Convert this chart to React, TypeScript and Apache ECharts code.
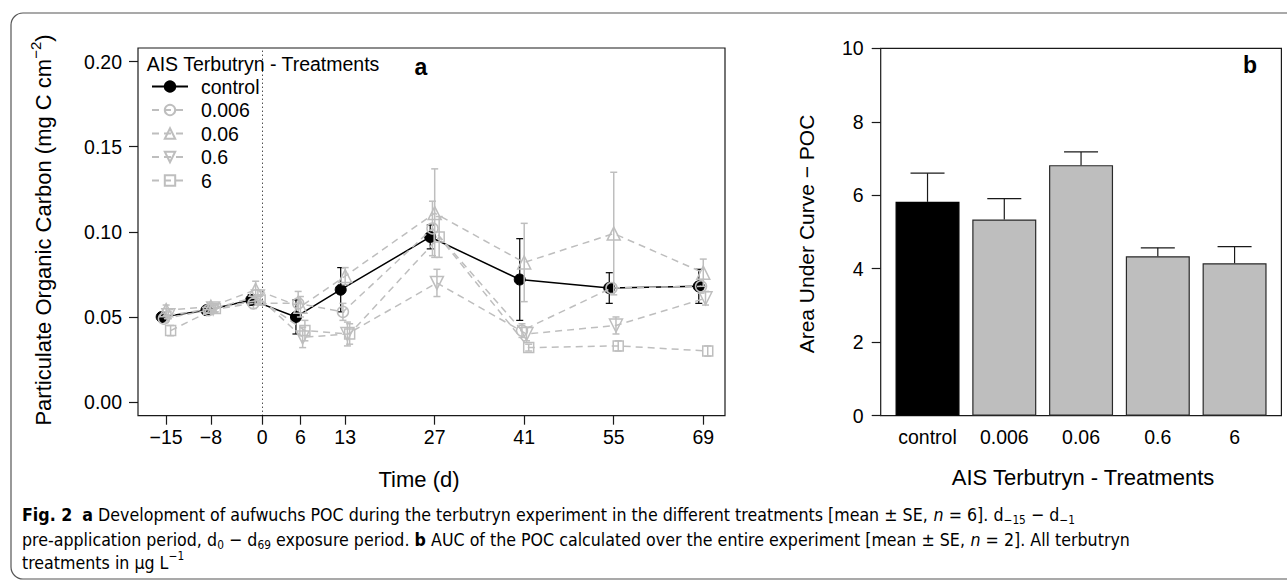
import React, { useEffect, useRef } from 'react';
import * as echarts from 'echarts';

// ---------- data ----------
const days = [-15, -8, -1, 6, 13, 27, 41, 55, 69];
const dayTicks = [-15, -8, 0, 6, 13, 27, 41, 55, 69];
const pocTicks = [0, 0.05, 0.1, 0.15, 0.2];
const treatments = ['control', '0.006', '0.06', '0.6', '6'];

const controlMean = [0.050, 0.054, 0.060, 0.050, 0.066, 0.097, 0.072, 0.067, 0.068];
const controlSE = [0.002, 0.002, 0.003, 0.010, 0.013, 0.007, 0.024, 0.009, 0.010];
const t0006Mean = [0.049, 0.054, 0.058, 0.058, 0.053, 0.102, 0.042, 0.067, 0.068];
const t0006SE = [0.002, 0.002, 0.003, 0.007, 0.005, 0.016, 0.004, 0.003, 0.004];
const t006Mean = [0.054, 0.056, 0.066, 0.056, 0.074, 0.111, 0.082, 0.099, 0.076];
const t006SE = [0.003, 0.002, 0.005, 0.006, 0.005, 0.026, 0.023, 0.036, 0.008];
const t06Mean = [0.051, 0.055, 0.062, 0.038, 0.040, 0.070, 0.040, 0.045, 0.061];
const t06SE = [0.002, 0.002, 0.004, 0.006, 0.007, 0.008, 0.004, 0.005, 0.004];
const t6Mean = [0.042, 0.055, 0.060, 0.042, 0.040, 0.097, 0.032, 0.033, 0.030];
const t6SE = [0.003, 0.002, 0.003, 0.006, 0.006, 0.012, 0.002, 0.003, 0.003];

// horizontal jitter of each treatment (days)
const dayOffsets = [-0.7, -0.35, 0, 0.35, 0.7];

const aucMean = [5.82, 5.34, 6.82, 4.34, 4.15];
const aucSE = [0.78, 0.57, 0.36, 0.23, 0.45];
const aucTicks = [0, 2, 4, 6, 8, 10];

// ---------- style ----------
const GREY = '#bebebe';
const INK = '#1a1a1a';
const FONT = "'Liberation Sans', Arial, Helvetica, sans-serif";
const CAP_FONT = "'Liberation Sans Narrow', 'DejaVu Sans Condensed', 'Liberation Sans', Arial, sans-serif";

const means = [controlMean, t0006Mean, t006Mean, t06Mean, t6Mean];
const ses = [controlSE, t0006SE, t006SE, t06SE, t6SE];
const symbols = ['circle', 'circle', 'triangle', 'triangle', 'rect'];
const symbolRot = [0, 0, 0, 180, 0];
const symbolSizes = [11, 11, 13, 13, 10];

// bar layout of R barplot (width 1, space 0.2)
const barPos = treatments.map((_, i) => 0.7 + 1.2 * i);

type Seg = [string, string];
const capStyles: Record<string, any> = {
  n: { fontSize: 18, lineHeight: 24 },
  b: { fontSize: 18, lineHeight: 24, fontWeight: 'bold' },
  i: { fontSize: 18, lineHeight: 24, fontStyle: 'italic' },
  sub: { fontSize: 12, lineHeight: 14, verticalAlign: 'bottom' },
  sup: { fontSize: 12, lineHeight: 14, verticalAlign: 'top' },
};
const capLine1: Seg[] = [
  ['b', 'Fig. 2'], ['n', '  '], ['b', 'a'],
  ['n', ' Development of aufwuchs POC during the terbutryn experiment in the different treatments [mean \u00b1 SE, '],
  ['i', 'n'], ['n', ' = 6]. d'], ['sub', '\u221215'], ['n', ' \u2212 d'], ['sub', '\u22121'],
];
const capLine2: Seg[] = [
  ['n', 'pre-application period, d'], ['sub', '0'], ['n', ' \u2212 d'], ['sub', '69'],
  ['n', ' exposure period. '], ['b', 'b'],
  ['n', ' AUC of the POC calculated over the entire experiment [mean \u00b1 SE, '],
  ['i', 'n'], ['n', ' = 2]. All terbutryn'],
];
const capLine3: Seg[] = [['n', 'treatments in \u00b5g L'], ['sup', '\u22121']];

function measure(segs: Seg[]): number {
  const ctx = document.createElement('canvas').getContext('2d');
  if (!ctx) return 1;
  let w = 0;
  for (const [k, t] of segs) {
    const st = capStyles[k];
    ctx.font = `${st.fontStyle || 'normal'} normal ${st.fontWeight || 'normal'} ${st.fontSize}px ${CAP_FONT}`;
    w += ctx.measureText(t).width;
  }
  return w;
}
const richStr = (segs: Seg[]) => segs.map(([k, t]) => `{${k}|${t}}`).join('');

function buildOption(): any {
  const s1 = 1075 / measure(capLine1);
  const s2 = 1084 / measure(capLine2);
  const capScale = (s1 + s2) / 2;
  const capRich: Record<string, any> = {};
  Object.keys(capStyles).forEach((k) => {
    capRich[k] = { ...capStyles[k], fontFamily: CAP_FONT, color: '#231f20' };
  });
  const capText = (segs: Seg[], y: number) => ({
    type: 'text', x: 22, y, scaleX: capScale, silent: true,
    style: { text: richStr(segs), rich: capRich, align: 'left', verticalAlign: 'middle', fontFamily: CAP_FONT },
  });

  const lineSeries = treatments.map((name, i) => ({
    type: 'line', name, xAxisIndex: 0, yAxisIndex: 0,
    data: days.map((d, j) => [d + dayOffsets[i], means[i][j]]),
    symbol: symbols[i], symbolSize: symbolSizes[i], symbolRotate: symbolRot[i],
    showAllSymbol: true,
    lineStyle: { color: i === 0 ? '#000' : GREY, width: 1.5, type: i === 0 ? 'solid' : [7, 5] },
    itemStyle: i === 0
      ? { color: '#000', borderColor: '#000', borderWidth: 1 }
      : { color: 'transparent', borderColor: GREY, borderWidth: 1.5 },
    emphasis: { disabled: true },
    z: 3 + i,
    markLine: i === 0 ? {
      silent: true, symbol: ['none', 'none'], label: { show: false },
      lineStyle: { color: '#000', width: 1, type: [1, 3] },
      data: [{ xAxis: 0 }],
    } : undefined,
  }));

  const errSeries = treatments.map((name, i) => ({
    type: 'custom', name: 'se ' + name, xAxisIndex: 0, yAxisIndex: 0,
    data: days.map((d, j) => [d + dayOffsets[i], means[i][j], ses[i][j]]),
    encode: { x: 0, y: 1 }, silent: true, z: 2 + i,
    renderItem: (_p: any, api: any) => {
      const x = api.value(0), m = api.value(1), s = api.value(2);
      const top = api.coord([x, m + s]);
      const bot = api.coord([x, m - s]);
      const hw = 3.5;
      const st = { stroke: i === 0 ? '#000' : GREY, lineWidth: i === 0 ? 1.2 : 1.5 };
      return {
        type: 'group', children: [
          { type: 'line', shape: { x1: top[0], y1: top[1], x2: bot[0], y2: bot[1] }, style: st },
          { type: 'line', shape: { x1: top[0] - hw, y1: top[1], x2: top[0] + hw, y2: top[1] }, style: st },
          { type: 'line', shape: { x1: bot[0] - hw, y1: bot[1], x2: bot[0] + hw, y2: bot[1] }, style: st },
        ],
      };
    },
  }));

  const barSeries = {
    type: 'bar', name: 'AUC', xAxisIndex: 1, yAxisIndex: 1, barWidth: 64,
    data: aucMean.map((v, i) => ({
      value: [barPos[i], v],
      itemStyle: { color: i === 0 ? '#000' : GREY, borderColor: i === 0 ? '#000' : '#2a2a2a', borderWidth: 1.2 },
    })),
    emphasis: { disabled: true }, silent: true,
  };
  const barErr = {
    type: 'custom', name: 'AUC se', xAxisIndex: 1, yAxisIndex: 1,
    data: aucMean.map((v, i) => [barPos[i], v, aucSE[i]]),
    encode: { x: 0, y: 1 }, silent: true, z: 5,
    renderItem: (_p: any, api: any) => {
      const x = api.value(0), m = api.value(1), s = api.value(2);
      const base = api.coord([x, m]);
      const top = api.coord([x, m + s]);
      const hw = 17;
      const st = { stroke: INK, lineWidth: 1.2 };
      return {
        type: 'group', children: [
          { type: 'line', shape: { x1: base[0], y1: base[1], x2: top[0], y2: top[1] }, style: st },
          { type: 'line', shape: { x1: top[0] - hw, y1: top[1], x2: top[0] + hw, y2: top[1] }, style: st },
        ],
      };
    },
  };

  const tick = { show: true, inside: false, length: 9, lineStyle: { color: INK, width: 1.2 } };
  const label = { color: '#000', fontSize: 19.5, fontFamily: FONT };
  const noLine = { show: false, onZero: false };

  return {
    animation: false,
    backgroundColor: '#fff',
    textStyle: { fontFamily: FONT },
    grid: [
      { left: 138, top: 48, width: 587, height: 367.7, show: true, borderColor: INK, borderWidth: 1.2, backgroundColor: 'transparent' },
      { left: 880.7, top: 48.3, width: 400.7, height: 367.4, show: true, borderColor: INK, borderWidth: 1.2, backgroundColor: 'transparent' },
    ],
    xAxis: [
      {
        type: 'value', gridIndex: 0, min: -19.4, max: 72.4, position: 'bottom',
        axisLine: noLine, splitLine: { show: false },
        axisTick: { ...tick, customValues: dayTicks },
        axisLabel: {
          ...label, margin: 11, customValues: dayTicks,
          formatter: (v: number) => (v < 0 ? '\u2212' + Math.abs(v) : String(v)),
        },
      },
      {
        type: 'value', gridIndex: 1, min: -0.032, max: 6.232, position: 'bottom',
        axisLine: noLine, splitLine: { show: false }, axisTick: { show: false },
        axisLabel: {
          ...label, margin: 11, customValues: barPos,
          formatter: (v: number) => treatments[Math.round((v - 0.7) / 1.2)] ?? '',
        },
      },
    ],
    yAxis: [
      {
        type: 'value', gridIndex: 0, min: -0.008, max: 0.208, position: 'left',
        axisLine: noLine, splitLine: { show: false },
        axisTick: { ...tick, customValues: pocTicks },
        axisLabel: { ...label, margin: 16, customValues: pocTicks, formatter: (v: number) => v.toFixed(2) },
      },
      {
        type: 'value', gridIndex: 1, min: 0, max: 10, position: 'left',
        axisLine: noLine, splitLine: { show: false },
        axisTick: { ...tick, customValues: aucTicks },
        axisLabel: { ...label, margin: 17, customValues: aucTicks },
      },
    ],
    legend: {
      data: treatments, orient: 'vertical', left: 146, top: 71.5,
      itemWidth: 36, itemHeight: 13, itemGap: 3.5, selectedMode: false,
      textStyle: { color: '#000', fontSize: 19.5, fontFamily: FONT, lineHeight: 20, padding: [0, 0, 0, 8] },
    },
    series: [...errSeries, ...lineSeries, barSeries, barErr],
    graphic: [
      { type: 'rect', silent: true, shape: { x: 11, y: 13, width: 1300, height: 566, r: 12 }, style: { fill: 'none', stroke: '#555', lineWidth: 1.2 } },
      { type: 'text', x: 146.7, y: 64, silent: true, style: { text: 'AIS Terbutryn - Treatments', fontSize: 19.5, fontFamily: FONT, fill: '#000', align: 'left', verticalAlign: 'middle' } },
      { type: 'text', x: 421, y: 67, silent: true, style: { text: 'a', fontSize: 23, fontWeight: 'bold', fontFamily: FONT, fill: '#000', align: 'center', verticalAlign: 'middle' } },
      { type: 'text', x: 1250, y: 65, silent: true, style: { text: 'b', fontSize: 23, fontWeight: 'bold', fontFamily: FONT, fill: '#000', align: 'center', verticalAlign: 'middle' } },
      {
        type: 'text', x: 43, y: 230, rotation: Math.PI / 2, silent: true,
        style: {
          text: '{m|Particulate Organic Carbon (mg C cm}{s|\u22122}{m|)}', align: 'center', verticalAlign: 'middle',
          rich: {
            m: { fontSize: 22, lineHeight: 30, fontFamily: FONT, color: '#000' },
            s: { fontSize: 15, lineHeight: 15, fontFamily: FONT, color: '#000', verticalAlign: 'top' },
          },
        },
      },
      { type: 'text', x: 806, y: 234, rotation: Math.PI / 2, silent: true, style: { text: 'Area Under Curve \u2212 POC', fontSize: 21, fontFamily: FONT, fill: '#000', align: 'center', verticalAlign: 'middle' } },
      { type: 'text', x: 419, y: 479, silent: true, style: { text: 'Time (d)', fontSize: 22, fontFamily: FONT, fill: '#000', align: 'center', verticalAlign: 'middle' } },
      { type: 'text', x: 1083, y: 477, silent: true, style: { text: 'AIS Terbutryn - Treatments', fontSize: 22, fontFamily: FONT, fill: '#000', align: 'center', verticalAlign: 'middle' } },
      capText(capLine1, 514),
      capText(capLine2, 539),
      capText(capLine3, 562),
    ],
  };
}

export default function App() {
  const ref = useRef<HTMLDivElement>(null);
  useEffect(() => {
    if (!ref.current) return;
    const chart = echarts.init(ref.current, null, { renderer: 'svg' });
    chart.setOption(buildOption());
    return () => chart.dispose();
  }, []);
  return (
    <div
      ref={ref}
      style={{ position: 'fixed', left: 0, top: 0, width: 1287, height: 586, background: '#fff' }}
    />
  );
}
